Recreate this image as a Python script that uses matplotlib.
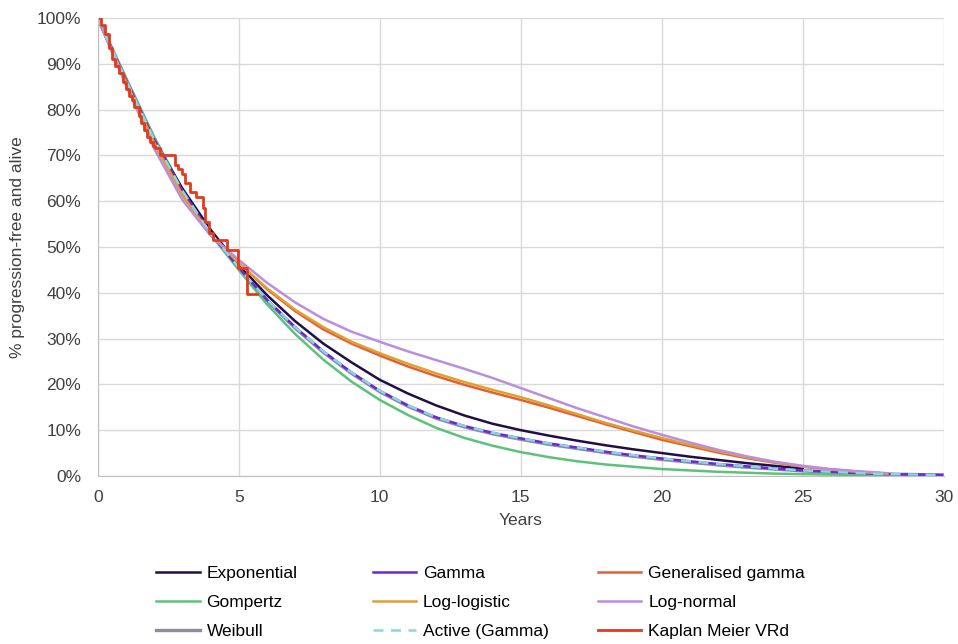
import matplotlib.pyplot as plt
from matplotlib.ticker import PercentFormatter

plt.rcParams['font.family'] = ['Liberation Sans', 'DejaVu Sans']

# data (% at each year)
years = list(range(0, 31))
exponential = [100, 85.6, 73.3, 62.8, 53.8, 46.1, 39.5, 33.8, 28.9, 24.8, 21.0, 18.0, 15.4, 13.2,
               11.4, 10.0, 8.8, 7.7, 6.7, 5.8, 5.0, 4.2, 3.5, 2.8, 2.2, 1.6]
gamma = [100, 86.5, 73.5, 62.3, 53.0, 45.5, 38.5, 32.5, 27.2, 22.6, 18.6, 15.4, 12.8, 10.9,
         9.4, 8.2, 7.1, 6.2, 5.3, 4.5, 3.8, 3.2, 2.6, 2.1, 1.6, 1.2, 0.9, 0.6, 0.4, 0.3, 0.2]
gen_gamma = [100, 86.2, 73.0, 61.5, 52.8, 46.5, 40.8, 36.0, 32.0, 28.9, 26.3, 23.9, 21.8, 19.9,
             18.2, 16.6, 14.9, 13.1, 11.3, 9.6, 7.9, 6.5, 5.1, 3.9, 2.9, 2.0, 1.4, 0.9, 0.5]
gompertz = [100, 86.7, 74.0, 62.5, 53.0, 45.0, 37.5, 31.0, 25.4, 20.6, 16.6, 13.3, 10.5, 8.3,
            6.6, 5.2, 4.1, 3.2, 2.5, 2.0, 1.5, 1.2, 0.9, 0.7, 0.5, 0.4, 0.3, 0.2, 0.2]
log_logistic = [100, 86.0, 72.5, 61.2, 52.8, 46.5, 41.0, 36.3, 32.5, 29.3, 26.8, 24.5, 22.4, 20.5,
                18.8, 17.2, 15.4, 13.5, 11.6, 9.9, 8.3, 6.8, 5.4, 4.1, 3.0, 2.1, 1.4, 0.9, 0.5]
log_normal = [100, 85.5, 71.5, 60.3, 52.5, 47.2, 42.2, 37.9, 34.3, 31.5, 29.3, 27.2, 25.3, 23.4,
              21.4, 19.2, 17.0, 14.8, 12.8, 10.8, 9.0, 7.3, 5.7, 4.3, 3.1, 2.2, 1.5, 1.0, 0.6]
weibull = [100, 86.8, 73.8, 62.4, 52.9, 45.3, 38.3, 32.3, 27.0, 22.4, 18.4, 15.2, 12.6, 10.7,
           9.2, 8.0, 6.9, 6.0, 5.1, 4.3, 3.6, 3.0, 2.4, 1.9, 1.5, 1.1, 0.8, 0.6, 0.4, 0.3, 0.2]
active = gamma

km_t = [0, 0.12, 0.25, 0.4, 0.5, 0.62, 0.75, 0.9, 1.0, 1.1, 1.2, 1.3, 1.45, 1.55, 1.65, 1.75,
        1.85, 1.95, 2.02, 2.2, 2.73, 2.85, 2.98, 3.1, 3.26, 3.5, 3.72, 3.82, 3.95, 4.08, 4.57,
        4.96, 5.28, 5.64]
km_s = [100, 98.5, 96.5, 93.5, 91.0, 89.5, 88.0, 86.0, 84.5, 83.0, 82.0, 80.5, 78.5, 77.0,
        75.5, 74.0, 73.0, 72.0, 71.6, 70.0, 68.0, 67.0, 66.0, 64.0, 62.0, 61.0, 58.5, 55.5,
        53.0, 51.5, 49.3, 45.4, 39.7, 39.7]

fig = plt.figure(figsize=(9.58, 6.44), dpi=100)
ax = fig.add_axes([0.102, 0.261, 0.883, 0.711])

lw = 1.8
ax.plot(years[:len(weibull)], weibull, color='#8c8c9c', lw=lw + 0.6, label='Weibull')
ax.plot(years[:len(gompertz)], gompertz, color='#5cc27a', lw=lw, label='Gompertz')
ax.plot(years[:len(exponential)], exponential, color='#1f0f45', lw=lw, label='Exponential')
ax.plot(years[:len(gamma)], gamma, color='#6a28d8', lw=lw, label='Gamma')
ax.plot(years[:len(gen_gamma)], gen_gamma, color='#e0603a', lw=lw, label='Generalised gamma')
ax.plot(years[:len(log_logistic)], log_logistic, color='#e0a030', lw=lw, label='Log-logistic')
ax.plot(years[:len(log_normal)], log_normal, color='#b98ee0', lw=lw, label='Log-normal')
ax.plot(years[:len(active)], active, color='#8fd3e6', lw=lw, ls=(0, (4, 3)), label='Active (Gamma)')
ax.step(km_t, km_s, where='post', color='#e03c1c', lw=lw + 0.2, label='Kaplan Meier VRd')

ax.set_xlim(0, 30)
ax.set_ylim(0, 100)
ax.set_xticks(range(0, 31, 5))
ax.set_yticks(range(0, 101, 10))
ax.yaxis.set_major_formatter(PercentFormatter(decimals=0))
ax.grid(True, color='#d9d9d9', lw=1)
ax.set_axisbelow(True)
for s in ['top', 'right']:
    ax.spines[s].set_visible(False)
for s in ['left', 'bottom']:
    ax.spines[s].set_color('#bfbfbf')
ax.tick_params(length=0, labelsize=12.5, colors='#404040')
ax.tick_params(axis='x', pad=10)
ax.tick_params(axis='y', pad=12)
ax.set_xlabel('Years', fontsize=12.5, color='#404040', labelpad=6)
ax.set_ylabel('% progression-free and alive', fontsize=12.5, color='#404040', labelpad=8)

# legend: three fixed-width columns like the original
h, l = ax.get_legend_handles_labels()
d = dict(zip(l, h))
cols = [['Exponential', 'Gompertz', 'Weibull'],
        ['Gamma', 'Log-logistic', 'Active (Gamma)'],
        ['Generalised gamma', 'Log-normal', 'Kaplan Meier VRd']]
col_x = [0.163, 0.389, 0.624]
for names, x in zip(cols, col_x):
    fig.legend([d[k] for k in names], names, loc='upper left', bbox_to_anchor=(x, 0.121),
               frameon=False, fontsize=12.5, handlelength=2.5, handletextpad=0.4,
               labelspacing=0.8, borderpad=0, borderaxespad=0)

fig.savefig('out.png', dpi=100)
